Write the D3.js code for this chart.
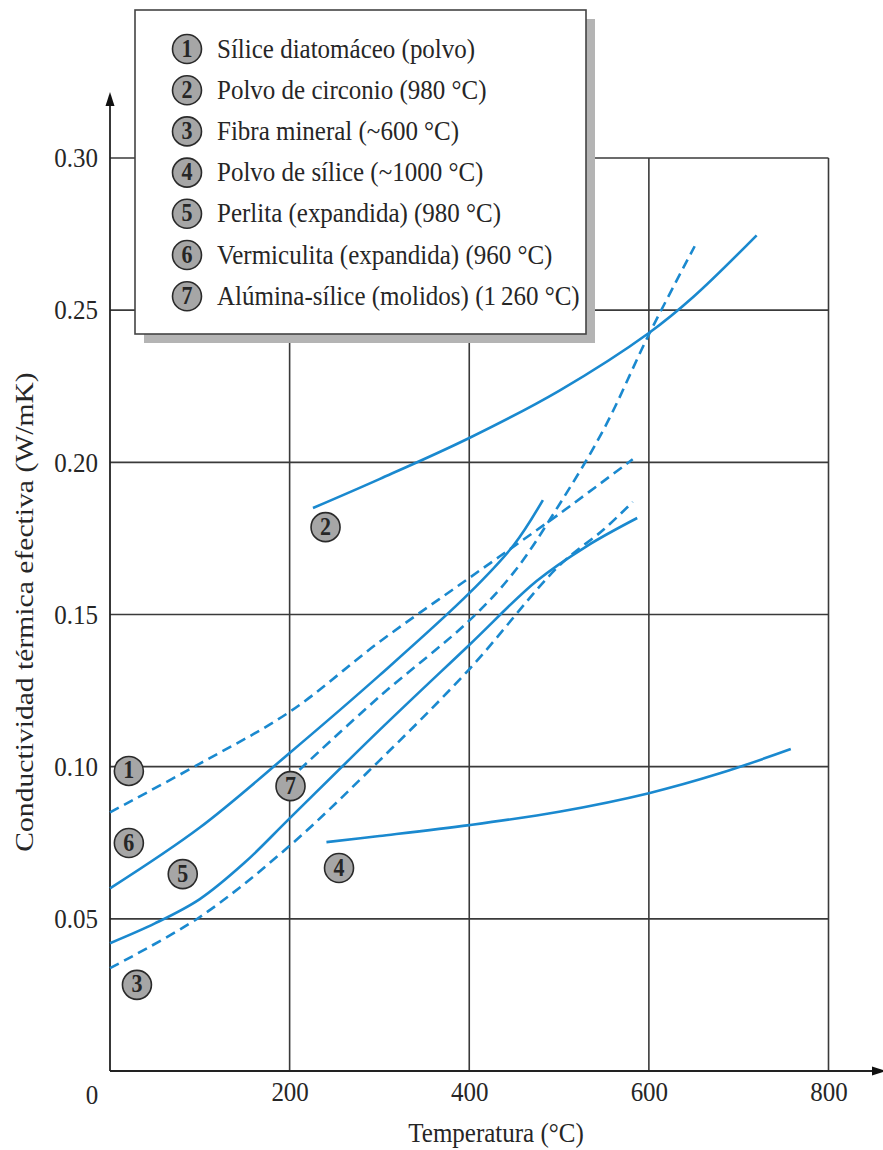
<!DOCTYPE html>
<html>
<head>
<meta charset="utf-8">
<script src="https://cdn.jsdelivr.net/npm/d3@7/dist/d3.min.js"></script>
<style>
body{margin:0;background:#fff;}
text{font-family:"Liberation Serif","Times New Roman",serif;fill:#262626;}
</style>
</head>
<body>
<svg></svg>
<script>
// data (temperature in °C, k in W/mK)
var legendLabels=['Sílice diatomáceo (polvo)','Polvo de circonio (980 °C)','Fibra mineral (~600 °C)',
  'Polvo de sílice (~1000 °C)','Perlita (expandida) (980 °C)','Vermiculita (expandida) (960 °C)',
  'Alúmina-sílice (molidos) (1\u2009260 °C)'];

var xTicks=[200,400,600,800];
var yTicks=[0.05,0.10,0.15,0.20,0.25,0.30];

var s1T=[0,100,200,300,400,500,582];
var s1K=[0.085,0.101,0.118,0.141,0.162,0.183,0.201];
var s2T=[226,300,400,500,600,650,720];
var s2K=[0.185,0.1945,0.208,0.2235,0.2425,0.2545,0.2746];
var s3T=[0,100,200,300,400,500,550,582];
var s3K=[0.0338,0.0506,0.074,0.102,0.132,0.166,0.178,0.187];
var s4T=[241,300,400,500,600,680,758];
var s4K=[0.0752,0.0772,0.0808,0.0852,0.0913,0.0979,0.1058];
var s5T=[0,50,100,150,200,300,400,475,531,587];
var s5K=[0.042,0.0485,0.0565,0.0685,0.083,0.112,0.140,0.161,0.1725,0.1817];
var s6T=[0,100,200,300,400,450,482];
var s6K=[0.060,0.080,0.1045,0.130,0.157,0.173,0.1876];
var s7T=[211,300,400,450,500,550,600,651];
var s7K=[0.099,0.123,0.148,0.164,0.186,0.211,0.242,0.271];

// where the numbered discs sit on the chart
var markT=[21,240,30,255,81,21,201];
var markK=[0.0986,0.1787,0.0283,0.0667,0.0647,0.0749,0.0936];

var series=[
  {t:s1T,k:s1K,dash:true},{t:s2T,k:s2K,dash:false},{t:s3T,k:s3K,dash:true},
  {t:s4T,k:s4K,dash:false},{t:s5T,k:s5K,dash:false},{t:s6T,k:s6K,dash:false},
  {t:s7T,k:s7K,dash:true}
];

var svgWidth=883,svgHeight=1150;
var blue='#1a89cf', grid='#3a3a3a', stretch=1.1;

var svg=d3.select('svg')
  .attr('width',svgWidth)
  .attr('height',svgHeight);

var xScale=d3.scaleLinear().domain([0,800]).range([110,828.5]);
var yScale=d3.scaleLinear().domain([0,0.30]).range([1071,158]);

// grid
svg.append('g').selectAll('line')
  .data(xTicks).enter().append('line')
  .attr('x1',d=>xScale(d)).attr('x2',d=>xScale(d))
  .attr('y1',yScale(0)).attr('y2',yScale(0.30))
  .attr('stroke',grid).attr('stroke-width',1.6);

svg.append('g').selectAll('line')
  .data(yTicks).enter().append('line')
  .attr('x1',xScale(0)).attr('x2',xScale(800))
  .attr('y1',d=>yScale(d)).attr('y2',d=>yScale(d))
  .attr('stroke',grid).attr('stroke-width',1.6);

// axes lines with arrows
svg.append('line')
  .attr('x1',xScale(0)).attr('x2',xScale(0))
  .attr('y1',yScale(0)).attr('y2',102)
  .attr('stroke','#222').attr('stroke-width',1.8);
svg.append('path')
  .attr('d','M'+xScale(0)+',92 l-4.5,14 l9,0 z')
  .attr('fill','#111');
svg.append('line')
  .attr('x1',xScale(0)).attr('x2',874)
  .attr('y1',yScale(0)).attr('y2',yScale(0))
  .attr('stroke','#222').attr('stroke-width',1.8);
svg.append('path')
  .attr('d','M886,'+yScale(0)+' l-14,-4.5 l0,9 z')
  .attr('fill','#111');

// tick labels through d3 axes
var yAxis=d3.axisLeft(yScale).tickValues(yTicks).tickFormat(d3.format('.2f')).tickSize(0).tickPadding(12);
var gy=svg.append('g').attr('transform','translate('+xScale(0)+',0)').call(yAxis);
var xAxis=d3.axisBottom(xScale).tickValues(xTicks).tickSize(0).tickPadding(12);
var gx=svg.append('g').attr('transform','translate(0,'+yScale(0)+')').call(xAxis);
[gy,gx].forEach(function(g){
  g.select('.domain').remove();
  g.selectAll('text')
    .style('font-family','"Liberation Serif","Times New Roman",serif')
    .style('font-size','25px')
    .attr('fill','#262626')
    .attr('transform','scale(1,'+stretch+')');
});
gx.selectAll('text').attr('dy','0.6em');

svg.append('text')
  .attr('transform','translate('+(xScale(0)-18)+','+(yScale(0)+33)+') scale(1,'+stretch+')')
  .attr('text-anchor','middle')
  .style('font-size','25px')
  .text('0');

// axis titles
svg.append('text')
  .attr('transform','translate(496,1142) scale(1,'+stretch+')')
  .attr('text-anchor','middle')
  .style('font-size','25px')
  .text('Temperatura (°C)');

svg.append('text')
  .attr('transform','translate(33,612) scale(1,1.14) rotate(-90)')
  .attr('text-anchor','middle')
  .style('font-size','26px')
  .text('Conductividad térmica efectiva (W/mK)');

// curves
var line=d3.line()
  .x(d=>xScale(d[0]))
  .y(d=>yScale(d[1]))
  .curve(d3.curveCatmullRom.alpha(0.5));

svg.append('g').selectAll('path')
  .data(series).enter().append('path')
  .attr('d',d=>line(d.t.map((t,i)=>[t,d.k[i]])))
  .attr('fill','none')
  .attr('stroke',blue)
  .attr('stroke-width',2.6)
  .attr('stroke-dasharray',d=>d.dash?'10,6':null);

// numbered discs
function disc(g,cx,cy,n){
  g.append('circle').attr('cx',cx).attr('cy',cy).attr('r',14.5)
    .attr('fill','#a6a6a6').attr('stroke','#2a2a2a').attr('stroke-width',1.6);
  g.append('text')
    .attr('transform','translate('+cx+','+(cy+7.5)+') scale(1,'+stretch+')')
    .attr('text-anchor','middle')
    .style('font-size','22px').style('font-weight','bold')
    .attr('fill','#1a1a1a')
    .text(n);
}

var marks=svg.append('g');
markT.forEach(function(t,i){
  disc(marks,xScale(t),yScale(markK[i]),i+1);
});

// legend
var lg=svg.append('g');
lg.append('rect').attr('x',144).attr('y',19).attr('width',451).attr('height',324).attr('fill','#b4b4b4');
lg.append('rect').attr('x',135).attr('y',10).attr('width',451).attr('height',324)
  .attr('fill','#fff').attr('stroke','#444').attr('stroke-width',1.6);

legendLabels.forEach(function(lab,i){
  var cy=49+i*41.2;
  disc(lg,187,cy,i+1);
  lg.append('text')
    .attr('transform','translate(217,'+(cy+8.5)+') scale(1,'+stretch+')')
    .style('font-size','25px')
    .text(lab);
});
</script>
</body>
</html>
